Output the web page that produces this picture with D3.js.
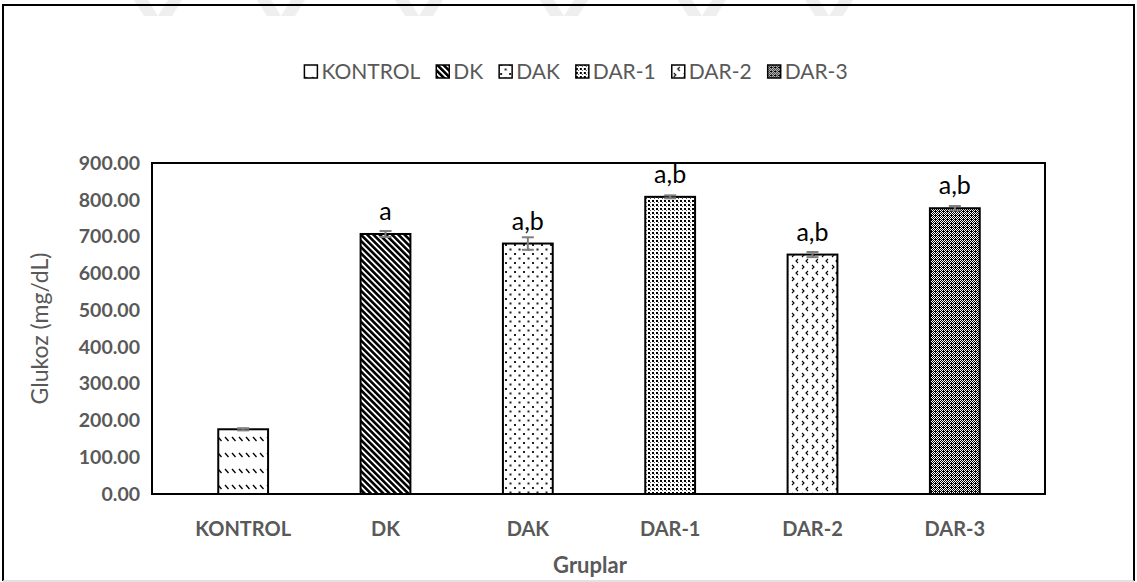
<!DOCTYPE html>
<html>
<head>
<meta charset="utf-8">
<script src="https://cdn.jsdelivr.net/npm/d3@7"></script>
<style>
  html, body { margin: 0; padding: 0; background: #fff; }
  svg { display: block; }
  text { font-family: "Lato", "Open Sans", sans-serif; }
</style>
</head>
<body>
<svg id="chart" width="1137" height="582"></svg>
<script>
// Blood glucose by group (mg/dL), with standard error and significance letters
const groups = ["KONTROL", "DK", "DAK", "DAR-1", "DAR-2", "DAR-3"];
const glucose = [176, 707, 681, 808, 651, 777];
const errors = [3, 8, 17, 4, 7, 6];
const letters = ["", "a", "a,b", "a,b", "a,b", "a,b"];
const yTicks = [0, 100, 200, 300, 400, 500, 600, 700, 800, 900];
const patternIds = ["p-kontrol", "p-dk", "p-dak", "p-dar1", "p-dar2", "p-dar3"];

const svg = d3.select("#chart");
const W = 1137, H = 582;
const plot = { left: 152, right: 1045, top: 163, bottom: 494 };
const bandRange = [172, 1026];
const textGray = "#595959";

// ---- fill patterns ----
const defs = svg.append("defs");

// KONTROL: dashed downward diagonal
{
  const p = defs.append("pattern").attr("id", patternIds[0])
    .attr("patternUnits", "userSpaceOnUse").attr("width", 7).attr("height", 16);
  p.append("rect").attr("width", 7).attr("height", 16).attr("fill", "#fff");
  p.append("line").attr("x1", 1).attr("y1", 5).attr("x2", 4.5).attr("y2", 9)
    .attr("stroke", "#000").attr("stroke-width", 1.3);
}
// DK: wide downward diagonal
{
  const p = defs.append("pattern").attr("id", patternIds[1])
    .attr("patternUnits", "userSpaceOnUse").attr("width", 4.4).attr("height", 4.4)
    .attr("patternTransform", "rotate(-45)");
  p.append("rect").attr("width", 4.4).attr("height", 4.4).attr("fill", "#fff");
  p.append("rect").attr("width", 2.6).attr("height", 4.4).attr("fill", "#000");
}
// DAK: sparse dots
{
  const p = defs.append("pattern").attr("id", patternIds[2])
    .attr("patternUnits", "userSpaceOnUse").attr("width", 9).attr("height", 9);
  p.append("rect").attr("width", 9).attr("height", 9).attr("fill", "#fff");
  p.append("rect").attr("x", 1).attr("y", 1).attr("width", 2).attr("height", 2).attr("fill", "#222");
  p.append("rect").attr("x", 5.5).attr("y", 5.5).attr("width", 2).attr("height", 2).attr("fill", "#222");
}
// DAR-1: dense dots
{
  const p = defs.append("pattern").attr("id", patternIds[3])
    .attr("patternUnits", "userSpaceOnUse").attr("width", 4).attr("height", 4);
  p.append("rect").attr("width", 4).attr("height", 4).attr("fill", "#fff");
  p.append("rect").attr("x", 0).attr("y", 0).attr("width", 2).attr("height", 2).attr("fill", "#000");
  p.append("rect").attr("x", 2).attr("y", 2).attr("width", 1).attr("height", 1).attr("fill", "#555");
}
// DAR-2: divot marks
{
  const p = defs.append("pattern").attr("id", patternIds[4])
    .attr("patternUnits", "userSpaceOnUse").attr("width", 10).attr("height", 12);
  p.append("rect").attr("width", 10).attr("height", 12).attr("fill", "#fff");
  p.append("path").attr("d", "M2,1 L4,3 L2,5").attr("fill", "none")
    .attr("stroke", "#000").attr("stroke-width", 1.1);
  p.append("path").attr("d", "M8,7 L6,9 L8,11").attr("fill", "none")
    .attr("stroke", "#000").attr("stroke-width", 1.1);
}
// DAR-3: dark checker
{
  const p = defs.append("pattern").attr("id", patternIds[5])
    .attr("patternUnits", "userSpaceOnUse").attr("width", 4).attr("height", 4);
  p.append("rect").attr("width", 4).attr("height", 4).attr("fill", "#000");
  [[0, 0], [2, 0], [1, 1], [3, 1], [0, 2], [2, 2], [1, 3]].forEach(([x, y]) =>
    p.append("rect").attr("x", x).attr("y", y).attr("width", 1).attr("height", 1).attr("fill", "#fff"));
}

// ---- faint marks along the top edge ----
const topMarks = [134, 257, 395, 540, 678, 805];
svg.append("g").selectAll("path").data(topMarks).join("path")
  .attr("d", d => `M${d},0 L${d + 14},0 L${d + 24},16 L${d + 10},16 Z M${d + 48},0 L${d + 34},0 L${d + 24},16 L${d + 38},16 Z`)
  .attr("fill", "#efefef");

// ---- outer chart border ----
svg.append("path").attr("d", `M3,${H - 1} L3,5 L${W - 3},5 L${W - 3},${H - 1}`)
  .attr("fill", "none").attr("stroke", "#000").attr("stroke-width", 2);
svg.append("line").attr("x1", 3).attr("x2", W - 3).attr("y1", H - 1).attr("y2", H - 1)
  .attr("stroke", "#d9d9d9").attr("stroke-width", 1.5);

// ---- scales ----
const x = d3.scaleBand().domain(groups).range(bandRange).paddingInner(0.65).paddingOuter(0.325);
const y = d3.scaleLinear().domain([0, 900]).range([plot.bottom, plot.top]);

// ---- axes ----
const yAxis = d3.axisLeft(y).tickValues(yTicks).tickFormat(d3.format(".2f")).tickSize(0).tickPadding(12);
svg.append("g").attr("transform", `translate(${plot.left},0)`).call(yAxis)
  .call(g => g.select(".domain").remove())
  .selectAll("text").attr("fill", textGray).attr("font-size", 19.5).attr("font-weight", 700)
  .style("font-family", "Lato, 'Open Sans', sans-serif");

const xAxis = d3.axisBottom(x).tickSize(0).tickPadding(28);
svg.append("g").attr("transform", `translate(0,${plot.bottom})`).call(xAxis)
  .call(g => g.select(".domain").remove())
  .selectAll("text").attr("fill", textGray).attr("font-size", 20).attr("font-weight", 700)
  .style("font-family", "Lato, 'Open Sans', sans-serif");

// ---- bars ----
svg.append("g").selectAll("rect").data(groups).join("rect")
  .attr("x", d => x(d))
  .attr("y", (d, i) => y(glucose[i]))
  .attr("width", x.bandwidth())
  .attr("height", (d, i) => y(0) - y(glucose[i]))
  .attr("fill", (d, i) => `url(#${patternIds[i]})`)
  .attr("stroke", "#000").attr("stroke-width", 2);

// ---- error bars ----
const eb = svg.append("g").attr("stroke", "#7f7f7f").attr("stroke-width", 2);
groups.forEach((g, i) => {
  const cx = x(g) + x.bandwidth() / 2;
  const lo = y(glucose[i] - errors[i]), hi = y(glucose[i] + errors[i]);
  eb.append("line").attr("x1", cx).attr("x2", cx).attr("y1", lo).attr("y2", hi);
  eb.append("line").attr("x1", cx - 6).attr("x2", cx + 6).attr("y1", lo).attr("y2", lo);
  eb.append("line").attr("x1", cx - 6).attr("x2", cx + 6).attr("y1", hi).attr("y2", hi);
});

// ---- significance letters ----
svg.append("g").selectAll("text").data(groups).join("text")
  .attr("x", d => x(d) + x.bandwidth() / 2)
  .attr("y", (d, i) => y(glucose[i]) - 14)
  .attr("text-anchor", "middle")
  .attr("font-size", 25)
  .attr("fill", "#000")
  .text((d, i) => letters[i]);

// ---- plot frame ----
svg.append("rect").attr("x", plot.left).attr("y", plot.top)
  .attr("width", plot.right - plot.left).attr("height", plot.bottom - plot.top)
  .attr("fill", "none").attr("stroke", "#000").attr("stroke-width", 2);

// ---- axis titles ----
svg.append("text").attr("transform", `translate(48,${(plot.top + plot.bottom) / 2}) rotate(-90)`)
  .attr("text-anchor", "middle").attr("font-size", 23).attr("fill", textGray)
  .text("Glukoz (mg/dL)");
svg.append("text").attr("x", 590).attr("y", 573)
  .attr("text-anchor", "middle").attr("font-size", 22).attr("font-weight", 700).attr("fill", textGray)
  .text("Gruplar");

// ---- legend ----
const legend = svg.append("g").attr("transform", "translate(0,72)");
const items = [];
groups.forEach((g, i) => {
  const item = legend.append("g");
  item.append("rect").attr("x", 0).attr("y", -7).attr("width", 13).attr("height", 13)
    .attr("fill", `url(#${patternIds[i]})`).attr("stroke", "#000").attr("stroke-width", 1.5);
  const t = item.append("text").attr("x", 17).attr("y", 7).attr("font-size", 21).attr("fill", textGray).text(g);
  const w = 17 + t.node().getComputedTextLength();
  items.push({ item, w });
});
const gap = 16;
const totalW = d3.sum(items, d => d.w) + gap * (items.length - 1);
let lx = 576 - totalW / 2;
items.forEach(d => { d.item.attr("transform", `translate(${lx},0)`); lx += d.w + gap; });
</script>
</body>
</html>
